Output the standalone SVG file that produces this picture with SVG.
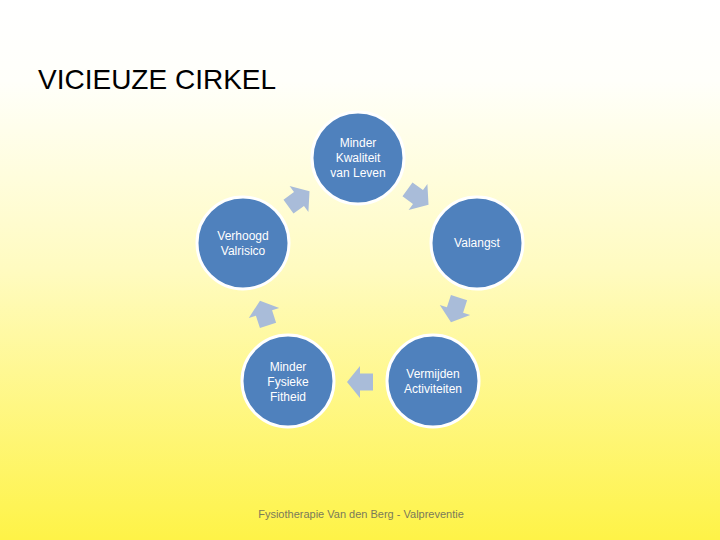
<svg xmlns="http://www.w3.org/2000/svg" width="720" height="540" viewBox="0 0 720 540">
  <defs>
    <linearGradient id="bg" x1="0" y1="0" x2="0" y2="1">
      <stop offset="0" stop-color="#ffffff"/>
      <stop offset="0.15" stop-color="#fffffa"/>
      <stop offset="0.5" stop-color="#fffbc0"/>
      <stop offset="1" stop-color="#fef347"/>
    </linearGradient>
    <path id="arr" d="M-13,-8.5 H0 V-16 L13,0 L0,16 V8.5 H-13 Z"/>
  </defs>
  <style>
    .node circle { fill: #4f81bd; stroke: #ffffff; stroke-width: 3; }
    .node text { fill: #ffffff; font-family: "Liberation Sans", Arial, sans-serif; font-size: 12px; text-anchor: middle; }
    .conn use { fill: #a9bcd9; }
  </style>
  <rect x="0" y="0" width="720" height="540" fill="url(#bg)"/>
  <text x="38" y="89" font-family="Liberation Sans, Arial, sans-serif" font-size="28" fill="#000000">VICIEUZE CIRKEL</text>

  <g id="connectors" class="conn">
    <use href="#arr" transform="translate(418,197) rotate(36)"/>
    <use href="#arr" transform="translate(455,310) rotate(108)"/>
    <use href="#arr" transform="translate(360,382) rotate(180)"/>
    <use href="#arr" transform="translate(264,313) rotate(252)"/>
    <use href="#arr" transform="translate(299,199) rotate(324)"/>
  </g>

  <g id="node-kwaliteit" class="node">
    <circle cx="358" cy="158" r="46"/>
    <text x="358" y="147">Minder</text>
    <text x="358" y="162">Kwaliteit</text>
    <text x="358" y="177">van Leven</text>
  </g>
  <g id="node-valangst" class="node">
    <circle cx="477" cy="243" r="46"/>
    <text x="477" y="247">Valangst</text>
  </g>
  <g id="node-vermijden" class="node">
    <circle cx="433" cy="381" r="46"/>
    <text x="433" y="378">Vermijden</text>
    <text x="433" y="393">Activiteiten</text>
  </g>
  <g id="node-fysieke" class="node">
    <circle cx="288" cy="381" r="46"/>
    <text x="288" y="371">Minder</text>
    <text x="288" y="386">Fysieke</text>
    <text x="288" y="401">Fitheid</text>
  </g>
  <g id="node-valrisico" class="node">
    <circle cx="243" cy="243" r="46"/>
    <text x="243" y="240">Verhoogd</text>
    <text x="243" y="255">Valrisico</text>
  </g>

  <text x="361" y="518" font-family="Liberation Sans, Arial, sans-serif" font-size="11" fill="#7a7a5a" text-anchor="middle">Fysiotherapie Van den Berg - Valpreventie</text>
</svg>
